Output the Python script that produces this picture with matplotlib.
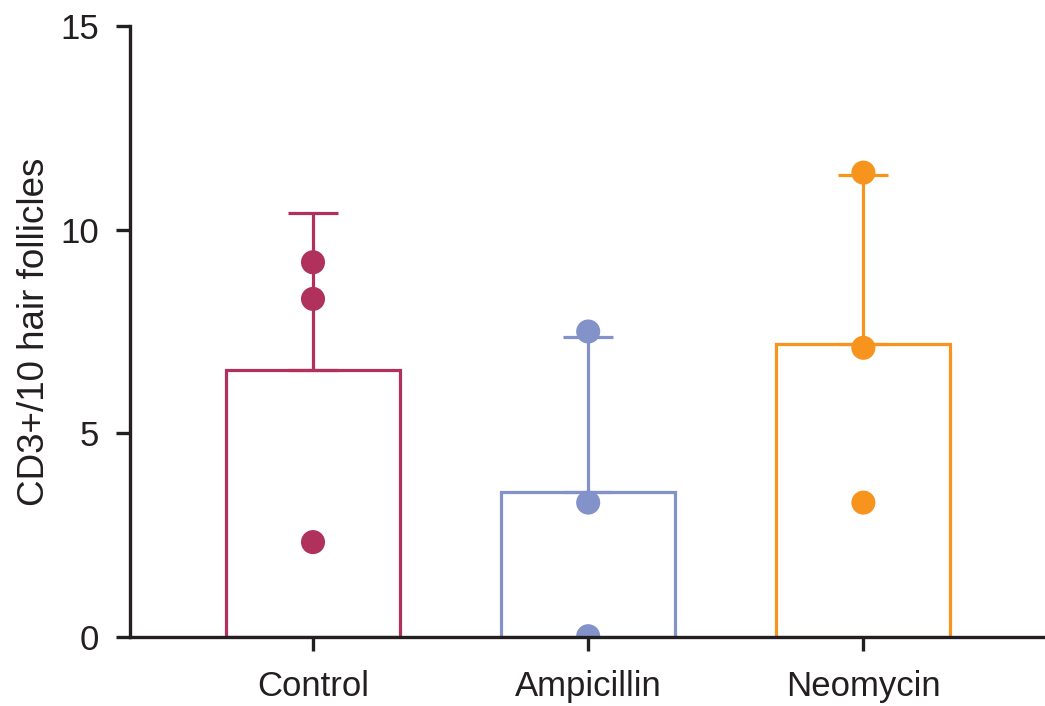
import matplotlib.pyplot as plt
import numpy as np

# data
groups = ['Control', 'Ampicillin', 'Neomycin']
means = [6.55, 3.55, 7.2]
upper_err = [3.85, 3.82, 4.15]
points = [
    [9.2, 8.3, 2.33],
    [7.5, 3.3, 0.02],
    [11.4, 7.1, 3.3],
]
colors = ['#B0325C', '#8392C8', '#F7941D']

plt.rcParams['font.family'] = ['Liberation Sans', 'DejaVu Sans']
dark = '#231F20'

fig = plt.figure(figsize=(10.45, 7.06), dpi=100)
ax = fig.add_axes([0.1244, 0.0977, 0.8756, 0.8655])

x = np.arange(len(groups))
for i in range(len(groups)):
    ax.bar(x[i], means[i], width=0.633, facecolor='white', edgecolor=colors[i],
           linewidth=2.3, zorder=2)
    ax.errorbar(x[i], means[i], yerr=[[0], [upper_err[i]]], color=colors[i],
                elinewidth=2.3, capsize=18, capthick=2.3, zorder=3)
    ax.scatter([x[i]] * len(points[i]), points[i], s=300, color=colors[i],
               edgecolors='none', zorder=4)

ax.set_xlim(-0.665, 2.66)
ax.set_ylim(0, 15)
ax.set_yticks([0, 5, 10, 15])
ax.set_xticks(x)
ax.set_xticklabels(groups)
ax.set_ylabel('CD3+/10 hair follicles', fontsize=26.5, color=dark, labelpad=6)

for s in ['top', 'right']:
    ax.spines[s].set_visible(False)
for s in ['left', 'bottom']:
    ax.spines[s].set_linewidth(2.4)
    ax.spines[s].set_color(dark)
    ax.spines[s].set_zorder(5)
ax.tick_params(axis='both', width=2.4, length=10, color=dark, labelcolor=dark,
               labelsize=25)
ax.tick_params(axis='y', pad=12)
ax.tick_params(axis='x', pad=14)

fig.savefig('out.png', dpi=100)
